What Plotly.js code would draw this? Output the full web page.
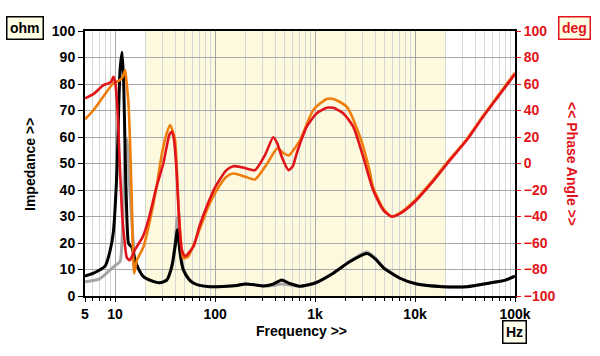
<!DOCTYPE html>
<html>
<head>
<meta charset="utf-8">
<script src="https://cdn.plot.ly/plotly-3.0.1.min.js"></script>
<style>html,body{margin:0;padding:0;background:#fff;}#chart{width:600px;height:356px;}</style>
</head>
<body>
<div id="chart"></div>
<script>
// Impedance, sample 1 (black)
const impAFreq = [5,6,7,8,8.9,9.6,10.4,11.2,11.75,12.2,12.6,13.1,13.6,14.2,14.7,15.8,17,19.2,24,28,32.8,36.9,39.8,42,44.7,48,55,60,70,89,120,166,200,250,302,380,465,550,708,1000,1520,2240,3300,4000,4840,7080,10400,19000,33000,56000,80000,100000];
const impAVal  = [7.5,8.5,9.8,11.5,17,24,46,85,92,80,54,30,20,19,18.5,13.6,10.5,7.3,5.5,5,6,11,18.6,25,16,10,6.2,5,4,3.5,3.6,4,4.5,4.2,3.8,4.5,6,4.8,3.7,4.9,8.6,13,16,14,10.6,6.7,4.5,3.5,3.5,4.9,6,7.5];
// Impedance, sample 2 (grey)
const impBFreq = [5,7,8.9,10,11.2,11.7,12.2,12.8,13.2,13.8,14.7,15.8,17,19.2,24,28,32.8,36.9,39.8,42,44.7,48,55,60,70,89,120,166,200,250,302,380,465,550,708,1000,1520,2240,3300,4000,4840,7080,10400,19000,33000,56000,80000,100000];
const impBVal  = [5.4,6.5,9.8,11.5,13,20,40,58,59,45,28,13.6,10.5,7.3,5.5,5,6,11.5,20,30,18,10.5,6.2,5,4,3.5,3.6,4,4.5,4.2,3.8,4,4.5,4.2,3.6,4.9,8.6,13.2,16.6,14.3,10.8,6.7,4.5,3.5,3.5,4.9,6,7.5];
// Phase, sample 1 (red)
const phAFreq = [5,6.1,7.6,8.6,9.2,9.6,10,10.4,10.8,11.2,11.8,12.3,13.1,14,15.8,19,22,26,30.4,32.8,35,36.9,38.5,39.8,41.5,43,46.4,50,60.7,70,85,100,130,152,190,251,316,382,420,465,543,600,656,826,1040,1310,1520,1910,2410,3030,3810,4800,5800,7000,9600,15500,22400,33000,48000,65700,100000];
const phAVal  = [49.2,52.5,59,60.5,62,65.5,62,48,25,-5,-40,-55,-71,-73,-65,-55,-40,-17.5,0.2,12.7,22,24,20,10,-10,-32.6,-65,-70,-62.8,-47,-30,-18,-5,-2,-3,-5,6.4,19.8,15,5,-5,-2,7.7,27.8,37.9,42,42,38,27.8,5,-20,-35,-40,-38,-30,-12.5,2.6,17.7,35.3,49,67.5];
// Phase, sample 2 (orange)
const phBFreq = [5,6.1,7.6,9.6,11.2,12,12.6,13,13.6,14.2,14.7,15.5,16.5,19.2,22,26,29,32,35.5,37.5,39.8,41.5,43,45.5,48,54,62,76,85,104,130,152,200,251,334,420,480,543,708,960,1310,1520,2070,2820,3500,3810,4800,5800,7000,9600,15500,22400,33000,48000,65700,100000];
const phBVal  = [33.4,40.4,50.4,60.5,63,66,70.6,62,45.4,10,-30,-83,-73,-63,-45,-17.5,5,20,29,25,17.7,-5,-32,-58,-71.5,-70,-60,-42.6,-33,-20,-10,-7.5,-10,-12,0.2,11.5,8,6,17.7,40.4,48.7,48.7,43,20,-5,-18,-34,-40,-37.5,-29,-11.5,3.5,18.5,36,50,68.5];
// Axis ticks
const xTickVals = [5,10,100,1000,10000,100000];
const xTickText = ['5','10','100','1k','10k','100k'];
const xMinorVals = [6,7,8,9,20,30,40,50,60,70,80,90,200,300,400,500,600,700,800,900,2000,3000,4000,5000,6000,7000,8000,9000,20000,30000,40000,50000,60000,70000,80000,90000];
const yTickVals = [0,10,20,30,40,50,60,70,80,90,100];
const y2TickVals = [-100,-80,-60,-40,-20,0,20,40,60,80,100];

const FONT = 'Liberation Sans, Arial, sans-serif';

const traces = [
  {x: impBFreq, y: impBVal, type:'scatter', mode:'lines', line:{color:'#a6a6a6', width:3, shape:'spline', smoothing:0.6}, yaxis:'y', hoverinfo:'none'},
  {x: phBFreq, y: phBVal, type:'scatter', mode:'lines', line:{color:'#f07d0a', width:2.6, shape:'spline', smoothing:0.6}, yaxis:'y2', hoverinfo:'none'},
  {x: phAFreq, y: phAVal, type:'scatter', mode:'lines', line:{color:'#e0141a', width:2.6, shape:'spline', smoothing:0.6}, yaxis:'y2', hoverinfo:'none'},
  {x: impAFreq, y: impAVal, type:'scatter', mode:'lines', line:{color:'#000000', width:3, shape:'spline', smoothing:0.6}, yaxis:'y', hoverinfo:'none'}
];

function px(x){ return (x-85)/430; }
function py(y){ return (296-y)/265; }

const layout = {
  width:600, height:356,
  margin:{l:85, r:85, t:31, b:60},
  paper_bgcolor:'#ffffff', plot_bgcolor:'#ffffff',
  showlegend:false,
  font:{family:FONT, size:14, color:'#000'},
  xaxis:{
    type:'log', range:[Math.log10(5), 5],
    tickmode:'array', tickvals:xTickVals, ticktext:xTickText,
    tickfont:{family:FONT, size:14, color:'#000', weight:'bold'},
    showgrid:true, gridcolor:'#a8a8a8', gridwidth:1,
    ticks:'outside', ticklen:4, tickcolor:'#000',
    minor:{tickmode:'array', tickvals:xMinorVals, showgrid:true, gridcolor:'#d6d6d6', gridwidth:1, ticks:'outside', ticklen:3, tickcolor:'#000'},
    showline:true, linecolor:'#000', linewidth:2, mirror:true,
    zeroline:false
  },
  yaxis:{
    range:[0,100], tickmode:'array', tickvals:yTickVals,
    tickfont:{family:FONT, size:14, color:'#000', weight:'bold'},
    showgrid:true, gridcolor:'#a8a8a8', gridwidth:1,
    ticks:'outside', ticklen:5, tickcolor:'#000',
    showline:true, linecolor:'#000', linewidth:2, mirror:true,
    zeroline:false
  },
  yaxis2:{
    range:[-100,100], overlaying:'y', side:'right', tickmode:'array', tickvals:y2TickVals,
    tickfont:{family:FONT, size:14, color:'#e0141a', weight:'bold'},
    showgrid:false, ticks:'outside', ticklen:5, tickcolor:'#e0141a',
    showline:false, zeroline:false
  },
  shapes:[
    {type:'rect', xref:'x', yref:'paper', x0:20, x1:20000, y0:0, y1:1, fillcolor:'#fcf9de', line:{width:0}, layer:'below'}
  ],
  annotations:[
    {text:'ohm', xref:'paper', yref:'paper', x:px(25), y:py(28.5), xanchor:'center', yanchor:'middle', showarrow:false,
     font:{family:FONT, size:14, color:'#000', weight:'bold'}, bgcolor:'#ffffe6', bordercolor:'#000', borderwidth:1.5, borderpad:2.5},
    {text:'deg', xref:'paper', yref:'paper', x:px(574), y:py(28.5), xanchor:'center', yanchor:'middle', showarrow:false,
     font:{family:FONT, size:14, color:'#e0141a', weight:'bold'}, bgcolor:'#ffffe6', bordercolor:'#e0141a', borderwidth:1.5, borderpad:2.5},
    {text:'Hz', xref:'paper', yref:'paper', x:px(514), y:py(332), xanchor:'center', yanchor:'middle', showarrow:false,
     font:{family:FONT, size:14, color:'#000', weight:'bold'}, bgcolor:'#ffffee', bordercolor:'#000', borderwidth:1.5, borderpad:2.5},
    {text:'Frequency >>', xref:'paper', yref:'paper', x:px(301), y:py(331), xanchor:'center', yanchor:'middle', showarrow:false,
     font:{family:FONT, size:14, color:'#000', weight:'bold'}},
    {text:'Impedance >>', xref:'paper', yref:'paper', x:px(30), y:py(165), xanchor:'center', yanchor:'middle', showarrow:false, textangle:-90,
     font:{family:FONT, size:14, color:'#000', weight:'bold'}},
    {text:'<< Phase Angle >>', xref:'paper', yref:'paper', x:px(572), y:py(164), xanchor:'center', yanchor:'middle', showarrow:false, textangle:90,
     font:{family:FONT, size:14, color:'#e0141a', weight:'bold'}}
  ]
};

Plotly.newPlot('chart', traces, layout, {staticPlot:true, displayModeBar:false});
</script>
</body>
</html>
